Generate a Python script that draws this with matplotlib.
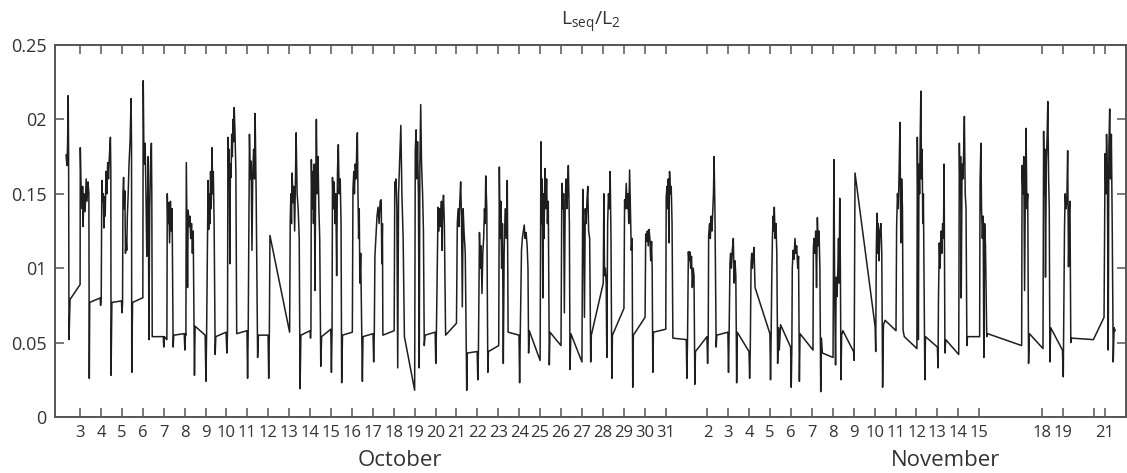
import matplotlib
matplotlib.use("Agg")
import matplotlib.pyplot as plt
import matplotlib.transforms as mtransforms

# =========================
# 1) DATA
# =========================
# time = day counted from 1 October (1 November = 32), value = L_seq/L_2
oct_pts = [
    # Oct 2
    (2.33, 0.176), (2.37, 0.169), (2.40, 0.182), (2.43, 0.216), (2.45, 0.178), (2.47, 0.052), (2.52, 0.079), (3.00, 0.089),
    # Oct 3
    (3.01, 0.181), (3.05, 0.152), (3.10, 0.140), (3.12, 0.155), (3.14, 0.128), (3.19, 0.150), (3.24, 0.138), (3.29, 0.160),
    (3.33, 0.145), (3.38, 0.158), (3.42, 0.150), (3.44, 0.026), (3.46, 0.077), (3.96, 0.080), (3.98, 0.075), (4.01, 0.079),
    # Oct 4
    (4.04, 0.159), (4.08, 0.145), (4.11, 0.150), (4.14, 0.127), (4.17, 0.148), (4.20, 0.135), (4.24, 0.165), (4.28, 0.150),
    (4.32, 0.171), (4.36, 0.160), (4.40, 0.175), (4.45, 0.188), (4.47, 0.165), (4.48, 0.028), (4.52, 0.077), (4.98, 0.078),
    (5.00, 0.070), (5.03, 0.076),
    # Oct 5
    (5.05, 0.150), (5.08, 0.161), (5.11, 0.140), (5.14, 0.152), (5.17, 0.110), (5.20, 0.120), (5.23, 0.112), (5.26, 0.135),
    (5.30, 0.150), (5.34, 0.170), (5.39, 0.185), (5.44, 0.214), (5.46, 0.180), (5.47, 0.030), (5.51, 0.077), (5.98, 0.080),
    (6.00, 0.080),
    # Oct 6
    (6.02, 0.226), (6.05, 0.180), (6.08, 0.170), (6.11, 0.184), (6.15, 0.150), (6.19, 0.108), (6.22, 0.140), (6.26, 0.175),
    (6.29, 0.052), (6.33, 0.140), (6.37, 0.170), (6.41, 0.184), (6.43, 0.150), (6.45, 0.054), (6.98, 0.054), (7.00, 0.047),
    (7.03, 0.054),
    # Oct 7
    (7.15, 0.052), (7.17, 0.150), (7.20, 0.130), (7.24, 0.144), (7.28, 0.117), (7.32, 0.145), (7.36, 0.125), (7.40, 0.140),
    (7.43, 0.079), (7.45, 0.047), (7.48, 0.055), (7.98, 0.056), (8.01, 0.045), (8.04, 0.056),
    # Oct 8
    (8.06, 0.055), (8.08, 0.171), (8.11, 0.130), (8.14, 0.087), (8.17, 0.139), (8.21, 0.128), (8.25, 0.135), (8.29, 0.120),
    (8.33, 0.130), (8.37, 0.110), (8.41, 0.125), (8.44, 0.079), (8.47, 0.028), (8.50, 0.061), (8.98, 0.055), (9.02, 0.024),
    (9.05, 0.055),
    # Oct 9
    (9.12, 0.159), (9.15, 0.126), (9.18, 0.150), (9.21, 0.130), (9.24, 0.165), (9.27, 0.140), (9.31, 0.181), (9.34, 0.150),
    (9.37, 0.165), (9.41, 0.130), (9.46, 0.042), (9.49, 0.054), (9.98, 0.057), (10.02, 0.043), (10.05, 0.057),
    # Oct 10
    (10.07, 0.188), (10.10, 0.168), (10.13, 0.180), (10.16, 0.103), (10.19, 0.170), (10.22, 0.161), (10.25, 0.190),
    (10.28, 0.175), (10.31, 0.200), (10.34, 0.185), (10.37, 0.208), (10.41, 0.190), (10.45, 0.165), (10.49, 0.056),
    (10.98, 0.058), (11.01, 0.026), (11.04, 0.058),
    # Oct 11
    (11.10, 0.190), (11.14, 0.160), (11.18, 0.172), (11.22, 0.112), (11.26, 0.165), (11.30, 0.180), (11.34, 0.160),
    (11.37, 0.204), (11.42, 0.150), (11.49, 0.040), (11.53, 0.055), (11.99, 0.055), (12.02, 0.026), (12.05, 0.055),
    # Oct 12
    (12.08, 0.122), (13.02, 0.057),
    # Oct 13
    (13.05, 0.132), (13.08, 0.150), (13.11, 0.130), (13.14, 0.164), (13.18, 0.144), (13.22, 0.155), (13.26, 0.125),
    (13.30, 0.160), (13.33, 0.191), (13.38, 0.150), (13.43, 0.140), (13.48, 0.120), (13.52, 0.019), (13.56, 0.055),
    (14.00, 0.058), (14.02, 0.053), (14.04, 0.058),
    # Oct 14
    (14.06, 0.173), (14.10, 0.140), (14.13, 0.165), (14.16, 0.130), (14.20, 0.170), (14.23, 0.085), (14.27, 0.160),
    (14.30, 0.200), (14.34, 0.150), (14.38, 0.175), (14.42, 0.140), (14.46, 0.120), (14.51, 0.034), (14.55, 0.054),
    (14.99, 0.059), (15.02, 0.030), (15.05, 0.059),
    # Oct 15
    (15.07, 0.161), (15.11, 0.140), (15.15, 0.158), (15.19, 0.130), (15.23, 0.150), (15.27, 0.095), (15.31, 0.165),
    (15.35, 0.183), (15.39, 0.150), (15.44, 0.160), (15.48, 0.130), (15.51, 0.023), (15.55, 0.055), (16.02, 0.057),
    # Oct 16
    (16.05, 0.153), (16.09, 0.165), (16.12, 0.150), (16.16, 0.170), (16.20, 0.160), (16.23, 0.180), (16.26, 0.191),
    (16.29, 0.150), (16.32, 0.120), (16.35, 0.140), (16.38, 0.090), (16.42, 0.110), (16.45, 0.077), (16.50, 0.024),
    (16.53, 0.054), (17.01, 0.056), (17.04, 0.037), (17.07, 0.056),
    # Oct 17
    (17.10, 0.108), (17.15, 0.121), (17.20, 0.135), (17.25, 0.141), (17.30, 0.130), (17.35, 0.145), (17.40, 0.146),
    (17.43, 0.103), (17.46, 0.130), (17.48, 0.055), (18.02, 0.058),
    # Oct 18
    (18.05, 0.158), (18.08, 0.155), (18.11, 0.160), (18.15, 0.140), (18.19, 0.033), (18.23, 0.150), (18.28, 0.170),
    (18.34, 0.196), (18.39, 0.150), (18.45, 0.120), (18.51, 0.054), (19.00, 0.018),
    # Oct 19
    (19.03, 0.179), (19.07, 0.193), (19.10, 0.160), (19.14, 0.185), (19.18, 0.150), (19.22, 0.033), (19.25, 0.170),
    (19.29, 0.210), (19.33, 0.170), (19.38, 0.150), (19.42, 0.125), (19.46, 0.048), (19.50, 0.055), (19.98, 0.057),
    (20.01, 0.036), (20.04, 0.057),
    # Oct 20
    (20.12, 0.141), (20.16, 0.125), (20.20, 0.140), (20.24, 0.128), (20.28, 0.145), (20.31, 0.112), (20.34, 0.140),
    (20.38, 0.149), (20.42, 0.130), (20.48, 0.055), (21.00, 0.063),
    # Oct 21
    (21.04, 0.130), (21.08, 0.140), (21.12, 0.128), (21.16, 0.145), (21.20, 0.158), (21.24, 0.135), (21.28, 0.074),
    (21.32, 0.140), (21.36, 0.125), (21.42, 0.110), (21.49, 0.018), (21.52, 0.043), (21.99, 0.044), (22.02, 0.025),
    (22.05, 0.044),
    # Oct 22
    (22.10, 0.124), (22.14, 0.100), (22.18, 0.115), (22.22, 0.083), (22.26, 0.110), (22.30, 0.120), (22.34, 0.140),
    (22.37, 0.130), (22.40, 0.162), (22.45, 0.140), (22.50, 0.030), (22.53, 0.044), (23.02, 0.048),
    # Oct 23
    (23.05, 0.168), (23.09, 0.120), (23.12, 0.145), (23.16, 0.100), (23.20, 0.130), (23.24, 0.036), (23.28, 0.110),
    (23.33, 0.140), (23.38, 0.120), (23.43, 0.159), (23.47, 0.057), (23.99, 0.055), (24.02, 0.023), (24.05, 0.055),
    # Oct 24
    (24.11, 0.112), (24.15, 0.120), (24.20, 0.125), (24.24, 0.129), (24.28, 0.120), (24.33, 0.124), (24.38, 0.115),
    (24.42, 0.100), (24.45, 0.043), (24.48, 0.058), (25.00, 0.038),
    # Oct 25
    (25.04, 0.185), (25.07, 0.130), (25.10, 0.160), (25.13, 0.080), (25.16, 0.150), (25.19, 0.120), (25.23, 0.167),
    (25.27, 0.140), (25.31, 0.160), (25.35, 0.130), (25.39, 0.145), (25.44, 0.035), (25.47, 0.057), (26.00, 0.048),
    # Oct 26
    (26.04, 0.157), (26.08, 0.140), (26.12, 0.150), (26.16, 0.070), (26.20, 0.145), (26.24, 0.160), (26.28, 0.140),
    (26.32, 0.155), (26.35, 0.169), (26.40, 0.130), (26.43, 0.032), (26.47, 0.056), (27.00, 0.037),
    # Oct 27
    (27.04, 0.153), (27.08, 0.130), (27.12, 0.067), (27.16, 0.140), (27.20, 0.130), (27.24, 0.145), (27.28, 0.155),
    (27.32, 0.125), (27.37, 0.120), (27.42, 0.037), (27.45, 0.055), (28.02, 0.090),
    # Oct 28
    (28.05, 0.150), (28.08, 0.095), (28.12, 0.100), (28.16, 0.090), (28.19, 0.040), (28.23, 0.130), (28.27, 0.150),
    (28.31, 0.140), (28.35, 0.165), (28.39, 0.120), (28.43, 0.026), (28.46, 0.055), (29.01, 0.073),
    # Oct 29
    (29.04, 0.146), (29.08, 0.140), (29.12, 0.157), (29.16, 0.140), (29.20, 0.150), (29.24, 0.130), (29.28, 0.166),
    (29.32, 0.140), (29.36, 0.112), (29.40, 0.120), (29.43, 0.020), (29.46, 0.055), (30.02, 0.067),
    # Oct 30
    (30.05, 0.123), (30.09, 0.118), (30.13, 0.125), (30.17, 0.115), (30.21, 0.126), (30.25, 0.120), (30.29, 0.105),
    (30.33, 0.118), (30.36, 0.100), (30.39, 0.030), (30.42, 0.057), (31.01, 0.059),
    # Oct 31
    (31.03, 0.148), (31.07, 0.155), (31.10, 0.140), (31.13, 0.160), (31.16, 0.117), (31.19, 0.165), (31.23, 0.150),
    (31.27, 0.155), (31.31, 0.130), (31.35, 0.053), (31.99, 0.052), (32.02, 0.026), (32.05, 0.052),
]

nov_pts = [
    # Nov 1
    (32.09, 0.111), (32.12, 0.105), (32.16, 0.111), (32.20, 0.100), (32.24, 0.108), (32.28, 0.087), (32.32, 0.100),
    (32.36, 0.095), (32.40, 0.022), (32.43, 0.044), (32.98, 0.054), (33.01, 0.036), (33.04, 0.054),
    # Nov 2
    (33.06, 0.121), (33.10, 0.130), (33.14, 0.120), (33.18, 0.135), (33.22, 0.125), (33.26, 0.140), (33.29, 0.150),
    (33.32, 0.175), (33.36, 0.140), (33.42, 0.047), (33.45, 0.055), (33.98, 0.057), (34.01, 0.030), (34.04, 0.057),
    # Nov 3
    (34.08, 0.103), (34.11, 0.110), (34.15, 0.100), (34.19, 0.112), (34.24, 0.120), (34.28, 0.090), (34.32, 0.105),
    (34.36, 0.095), (34.40, 0.023), (34.43, 0.057), (34.99, 0.044), (35.02, 0.026), (35.05, 0.044),
    # Nov 4
    (35.09, 0.103), (35.12, 0.110), (35.15, 0.100), (35.19, 0.108), (35.23, 0.114), (35.28, 0.087), (35.99, 0.056),
    (36.02, 0.025), (36.05, 0.056),
    # Nov 5
    (36.08, 0.094), (36.11, 0.120), (36.14, 0.135), (36.17, 0.125), (36.20, 0.141), (36.24, 0.120), (36.28, 0.130),
    (36.32, 0.110), (36.36, 0.036), (36.40, 0.060), (36.44, 0.045), (36.50, 0.062), (36.98, 0.047), (37.01, 0.020),
    (37.04, 0.047),
    # Nov 6
    (37.06, 0.100), (37.10, 0.112), (37.14, 0.106), (37.19, 0.120), (37.23, 0.110), (37.27, 0.115), (37.32, 0.100),
    (37.36, 0.108), (37.40, 0.024), (37.43, 0.056), (38.05, 0.045),
    # Nov 7
    (38.07, 0.114), (38.10, 0.120), (38.14, 0.110), (38.18, 0.125), (38.22, 0.087), (38.26, 0.134), (38.30, 0.115),
    (38.34, 0.125), (38.38, 0.100), (38.42, 0.017), (38.45, 0.053), (38.50, 0.043), (39.01, 0.040),
    # Nov 8
    (39.05, 0.173), (39.09, 0.080), (39.13, 0.035), (39.16, 0.094), (39.20, 0.081), (39.24, 0.100), (39.27, 0.120),
    (39.30, 0.090), (39.33, 0.147), (39.36, 0.100), (39.39, 0.025), (39.42, 0.055), (39.48, 0.058), (39.99, 0.044),
    (40.02, 0.038),
    # Nov 9
    (40.06, 0.164), (41.02, 0.061), (41.05, 0.044),
    # Nov 10
    (41.08, 0.114), (41.11, 0.137), (41.14, 0.110), (41.17, 0.130), (41.21, 0.105), (41.25, 0.125), (41.30, 0.130),
    (41.34, 0.110), (41.38, 0.020), (41.42, 0.062), (41.50, 0.065), (42.02, 0.058),
    # Nov 11
    (42.05, 0.128), (42.09, 0.150), (42.13, 0.140), (42.17, 0.165), (42.21, 0.198), (42.25, 0.117), (42.29, 0.160),
    (42.33, 0.140), (42.36, 0.058), (42.42, 0.054), (43.02, 0.046),
    # Nov 12
    (43.04, 0.188), (43.07, 0.140), (43.09, 0.052), (43.12, 0.170), (43.15, 0.150), (43.18, 0.190), (43.21, 0.219),
    (43.24, 0.160), (43.27, 0.180), (43.30, 0.130), (43.33, 0.150), (43.36, 0.094), (43.40, 0.025), (43.43, 0.054),
    (44.00, 0.047), (44.03, 0.033),
    # Nov 13
    (44.05, 0.077), (44.09, 0.117), (44.13, 0.100), (44.17, 0.125), (44.21, 0.110), (44.25, 0.130), (44.29, 0.120),
    (44.32, 0.170), (44.36, 0.043), (44.40, 0.052), (45.02, 0.042),
    # Nov 14
    (45.05, 0.184), (45.08, 0.150), (45.11, 0.175), (45.14, 0.080), (45.18, 0.170), (45.22, 0.160), (45.26, 0.180),
    (45.29, 0.202), (45.33, 0.150), (45.37, 0.140), (45.41, 0.048), (45.44, 0.054), (46.02, 0.054),
    # Nov 15
    (46.04, 0.157), (46.08, 0.184), (46.11, 0.140), (46.15, 0.120), (46.19, 0.135), (46.22, 0.040), (46.26, 0.130),
    (46.30, 0.115), (46.36, 0.054), (46.40, 0.056), (48.03, 0.048),
    # Nov 17
    (48.05, 0.169), (48.09, 0.150), (48.13, 0.175), (48.17, 0.085), (48.21, 0.160), (48.24, 0.194), (48.28, 0.140),
    (48.32, 0.150), (48.36, 0.036), (48.40, 0.056), (49.05, 0.046),
    # Nov 18
    (49.08, 0.192), (49.11, 0.150), (49.14, 0.180), (49.17, 0.094), (49.21, 0.170), (49.25, 0.190), (49.28, 0.212),
    (49.32, 0.160), (49.35, 0.140), (49.38, 0.037), (49.42, 0.060), (49.98, 0.045), (50.02, 0.027),
    # Nov 19
    (50.08, 0.128), (50.11, 0.150), (50.15, 0.140), (50.19, 0.145), (50.23, 0.179), (50.27, 0.101), (50.31, 0.140),
    (50.34, 0.145), (50.38, 0.050), (50.42, 0.053), (51.46, 0.052), (51.97, 0.067),
    # Nov 21
    (52.02, 0.177), (52.06, 0.150), (52.09, 0.190), (52.13, 0.165), (52.17, 0.045), (52.20, 0.180), (52.24, 0.207),
    (52.28, 0.160), (52.32, 0.190), (52.36, 0.130), (52.41, 0.037), (52.45, 0.060), (52.50, 0.058),
]

oct_days = list(range(3, 32))
nov_days = [2, 3, 4, 5, 6, 7, 8, 9, 10, 11, 12, 13, 14, 15, 18, 19, 21]
extra_tick = 51.47  # unlabeled tick near 20/21 Nov

y_ticks = [0, 0.05, 0.1, 0.15, 0.2, 0.25]
y_labels = ["0", "0.05", "01", "0.15", "02", "0.25"]

title = "L$_{seq}$/L$_2$"
months = ["October", "November"]

# =========================
# 2) PREP
# =========================
pts = oct_pts + nov_pts
t = [p[0] for p in pts]
v = [p[1] for p in pts]

tick_pos = oct_days + [31 + d for d in nov_days] + [extra_tick]
tick_lab = [str(d) for d in oct_days] + [str(d) for d in nov_days] + [""]

# =========================
# 3) PLOT
# =========================
plt.rcParams["font.family"] = ["Open Sans", "DejaVu Sans"]
plt.rcParams["mathtext.default"] = "regular"

W, H = 1127, 473
fig = plt.figure(figsize=(W / 100, H / 100), dpi=100)
ax = fig.add_axes([55 / W, 56 / H, 1071 / W, 372 / H])

ax.plot(t, v, color="#1e1e1e", lw=1.1)

ax.set_xlim(1.80, 53.02)
ax.set_ylim(0, 0.25)

ax.set_xticks(tick_pos)
ax.set_xticklabels(tick_lab)
ax.set_yticks(y_ticks)
ax.set_yticklabels(y_labels)

ax.tick_params(direction="in", top=True, right=True, length=6.5, width=1.1,
               color="#555555", labelcolor="#333333", pad=6)
ax.tick_params(axis="x", labelsize=12)
ax.tick_params(axis="y", labelsize=13)

for s in ax.spines.values():
    s.set_color("#555555")
    s.set_linewidth(1.4)

ax.set_title(title, fontsize=14, color="#333333", pad=14)

# month names under the day ticks
tr = mtransforms.blended_transform_factory(ax.transData, fig.transFigure)
ax.text(18.3, 0.026, months[0], transform=tr, ha="center", va="center", fontsize=16, color="#333333")
ax.text(44.4, 0.026, months[1], transform=tr, ha="center", va="center", fontsize=16, color="#333333")

fig.savefig("out.png", dpi=100)
